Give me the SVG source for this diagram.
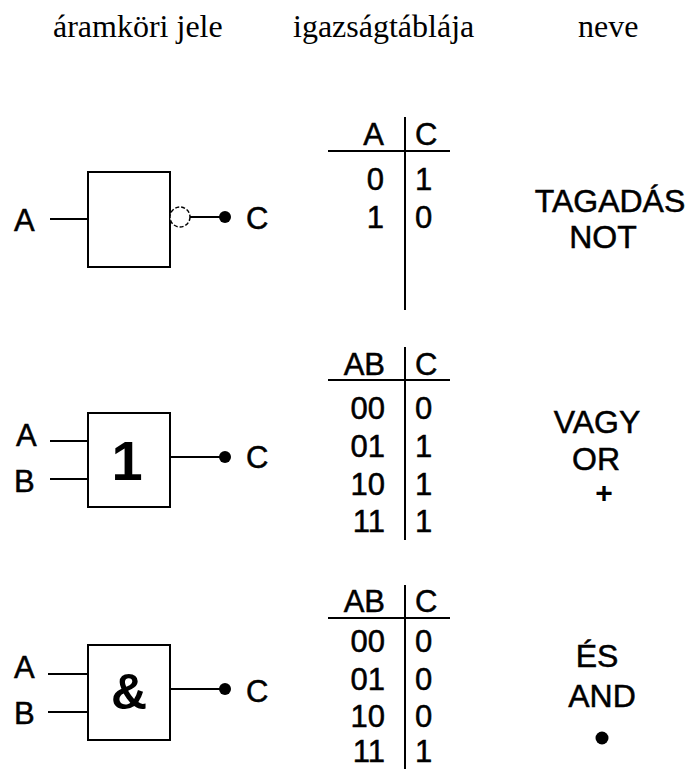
<svg xmlns="http://www.w3.org/2000/svg" width="690" height="769" viewBox="0 0 690 769">
<style>
.hd{font-family:"Liberation Serif","Times New Roman",serif;font-size:32px;fill:#000}
.t{font-family:"Liberation Sans",Arial,sans-serif;font-size:31px;fill:#000;stroke:#000;stroke-width:0.5}
.nm{font-family:"Liberation Sans",Arial,sans-serif;font-size:32px;fill:#000;stroke:#000;stroke-width:0.5;text-anchor:middle}
.e{text-anchor:end}
.sym{font-family:"Liberation Sans",Arial,sans-serif;font-weight:bold;fill:#000;text-anchor:middle}
.box{fill:#fff;stroke:#000;stroke-width:2}
.ln{stroke:#000;stroke-width:2;fill:none}
</style>
<rect width="690" height="769" fill="#fff"/>
<g id="headers">
<text class="hd" x="53" y="37">áramköri jele</text>
<text class="hd" x="293" y="37">igazságtáblája</text>
<text class="hd" x="578" y="37">neve</text>
</g>
<g id="connectors">
<line class="ln" x1="50" y1="219" x2="88" y2="219"/>
<line class="ln" x1="190" y1="217" x2="225" y2="217"/>
<line class="ln" x1="50" y1="441" x2="88" y2="441"/>
<line class="ln" x1="50" y1="479" x2="88" y2="479"/>
<line class="ln" x1="170" y1="457" x2="225" y2="457"/>
<line class="ln" x1="48" y1="674" x2="88" y2="674"/>
<line class="ln" x1="48" y1="712" x2="88" y2="712"/>
<line class="ln" x1="170" y1="689" x2="225" y2="689"/>
</g>
<g id="not-gate">
<rect class="box" x="88" y="172" width="82" height="95"/>
<circle cx="180" cy="217" r="10" fill="#fff" stroke="#000" stroke-width="1.5" stroke-dasharray="4 2"/>
<circle cx="225" cy="217" r="6" fill="#000"/>
<text class="t" x="14" y="231">A</text>
<text class="t" x="246" y="229">C</text>
</g>
<g id="not-table">
<line class="ln" x1="405" y1="117" x2="405" y2="310"/>
<line class="ln" x1="328" y1="151" x2="450" y2="151"/>
<text class="t e" x="384" y="145">A</text>
<text class="t" x="415" y="145">C</text>
<text class="t e" x="384" y="190">0</text>
<text class="t" x="415" y="190">1</text>
<text class="t e" x="384" y="228">1</text>
<text class="t" x="415" y="228">0</text>
</g>
<g id="not-name">
<text class="nm" x="610" y="212">TAGADÁS</text>
<text class="nm" x="603" y="248">NOT</text>
</g>
<g id="or-gate">
<rect class="box" x="88" y="413" width="82" height="94"/>
<text class="sym" x="127" y="480" font-size="56">1</text>
<circle cx="225" cy="457" r="6" fill="#000"/>
<text class="t" x="16" y="446">A</text>
<text class="t" x="14" y="492">B</text>
<text class="t" x="246" y="468">C</text>
</g>
<g id="or-table">
<line class="ln" x1="405" y1="347" x2="405" y2="540"/>
<line class="ln" x1="328" y1="380" x2="450" y2="380"/>
<text class="t e" x="385" y="375">AB</text>
<text class="t" x="415" y="375">C</text>
<text class="t e" x="385" y="419">00</text>
<text class="t" x="415" y="419">0</text>
<text class="t e" x="385" y="457">01</text>
<text class="t" x="415" y="457">1</text>
<text class="t e" x="385" y="495">10</text>
<text class="t" x="415" y="495">1</text>
<text class="t e" x="385" y="532">11</text>
<text class="t" x="415" y="532">1</text>
</g>
<g id="or-name">
<text class="nm" x="597" y="433">VAGY</text>
<text class="nm" x="596" y="470">OR</text>
<text class="sym" x="604" y="503" font-size="30">+</text>
</g>
<g id="and-gate">
<rect class="box" x="88" y="645" width="82" height="95"/>
<text class="sym" x="129" y="709" font-size="50">&amp;</text>
<circle cx="225" cy="689" r="6" fill="#000"/>
<text class="t" x="14" y="678">A</text>
<text class="t" x="14" y="724">B</text>
<text class="t" x="246" y="702">C</text>
</g>
<g id="and-table">
<line class="ln" x1="405" y1="585" x2="405" y2="769"/>
<line class="ln" x1="328" y1="618" x2="450" y2="618"/>
<text class="t e" x="385" y="612">AB</text>
<text class="t" x="415" y="612">C</text>
<text class="t e" x="385" y="652">00</text>
<text class="t" x="415" y="652">0</text>
<text class="t e" x="385" y="690">01</text>
<text class="t" x="415" y="690">0</text>
<text class="t e" x="385" y="727">10</text>
<text class="t" x="415" y="727">0</text>
<text class="t e" x="385" y="762">11</text>
<text class="t" x="415" y="762">1</text>
</g>
<g id="and-name">
<text class="nm" x="597" y="667">ÉS</text>
<text class="nm" x="602" y="707">AND</text>
<circle cx="602" cy="738" r="6.5" fill="#000"/>
</g>
</svg>
